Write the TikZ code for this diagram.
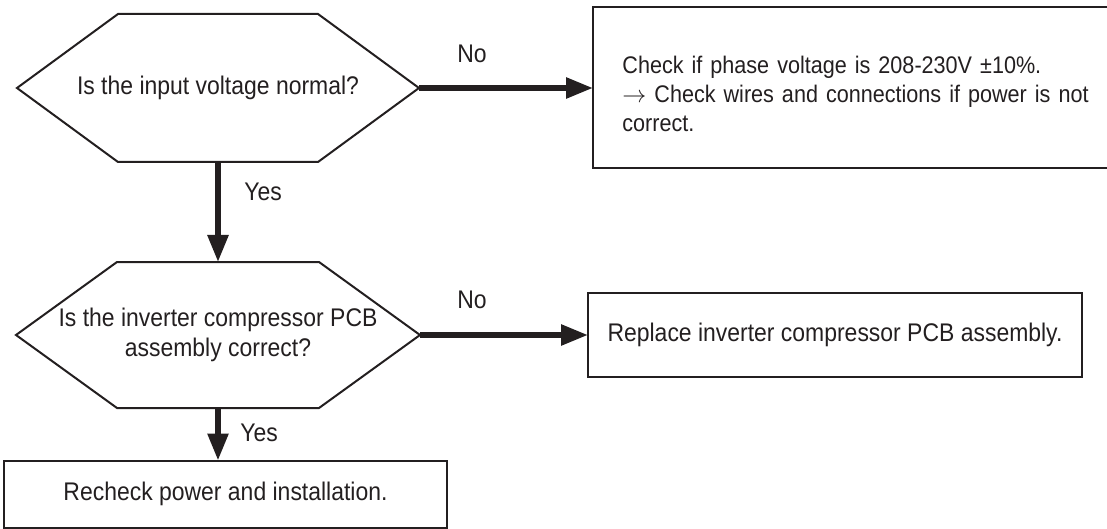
\documentclass[tikz,border=0pt]{standalone}
\usepackage{fontspec}
\setmainfont{Liberation Sans}[FakeStretch=0.9]
\usepackage{tikz}
\usetikzlibrary{arrows.meta,positioning,calc}
\definecolor{ink}{HTML}{231F20}
\tikzset{
 qnode/.style={shape=rectangle,inner sep=0pt,outer sep=0pt,align=center,
   font=\fontsize{12.75}{15}\selectfont,text=ink},
 qline/.style={draw=ink,line width=1pt,line join=miter},
 box/.style={draw=ink,line width=1pt,inner sep=0pt,outer sep=0pt,
   font=\fontsize{12.75}{15}\selectfont,text=ink},
 lbl/.style={font=\fontsize{12.75}{15}\selectfont,text=ink,inner sep=0pt},
 arrow/.style={-{Triangle[length=13.5pt,width=10pt]},line width=2.8pt,draw=ink}
}
\newcommand\hexq[2]{\draw[qline] (#1.west) -- ([xshift=#2]#1.north west)
  -- ([xshift=-#2]#1.north east) -- (#1.east) -- ([xshift=-#2]#1.south east)
  -- ([xshift=#2]#1.south west) -- cycle;}
\begin{document}
\begin{tikzpicture}[x=0.5pt,y=-0.5pt]
 \useasboundingbox (0,0) rectangle (1107,529);
 \clip (0,0) rectangle (1107,529);
 % questions
 \node[qnode,minimum width=201pt,minimum height=74pt] (volt) at (218,88) {Is the input voltage normal?};
 \node[qnode,minimum width=202pt,minimum height=73pt] (pcb) at (218,335) {Is the inverter compressor PCB\\assembly correct?};
 \hexq{volt}{50.5pt}
 \hexq{pcb}{50.5pt}
 % actions
 \node[box,anchor=north west,minimum width=300pt,minimum height=80.5pt] (phase) at (593,7) {};
 \node[lbl,anchor=base west,text width=245pt,align=left,font=\fontsize{12}{14.5}\selectfont]
   (phasetxt) at (622,74) {Check if phase voltage is 208-230V ±10\%.\\$\rightarrow$ Check wires and connections if power is not\\correct.};
 \node[box,minimum width=247pt,minimum height=42pt] (repl) at (835,335) {Replace inverter compressor PCB assembly.};
 \node[box,minimum width=221.5pt,minimum height=33.5pt] (rechk) at (225.5,494) {Recheck power and installation.};
 % connectors
 \draw[arrow] (volt.east) -- (volt.east -| phase.west);
 \draw[arrow] (volt.south) -- (pcb.north);
 \draw[arrow] (pcb.east) -- (pcb.east -| repl.west);
 \draw[arrow] (pcb.south) -- (pcb.south |- rechk.north);
 \node[lbl] (no1) at (472,54) {No};
 \node[lbl] (yes1) at (263,192) {Yes};
 \node[lbl] (no2) at (472,300) {No};
 \node[lbl] (yes2) at (259,433) {Yes};
\end{tikzpicture}
\end{document}
